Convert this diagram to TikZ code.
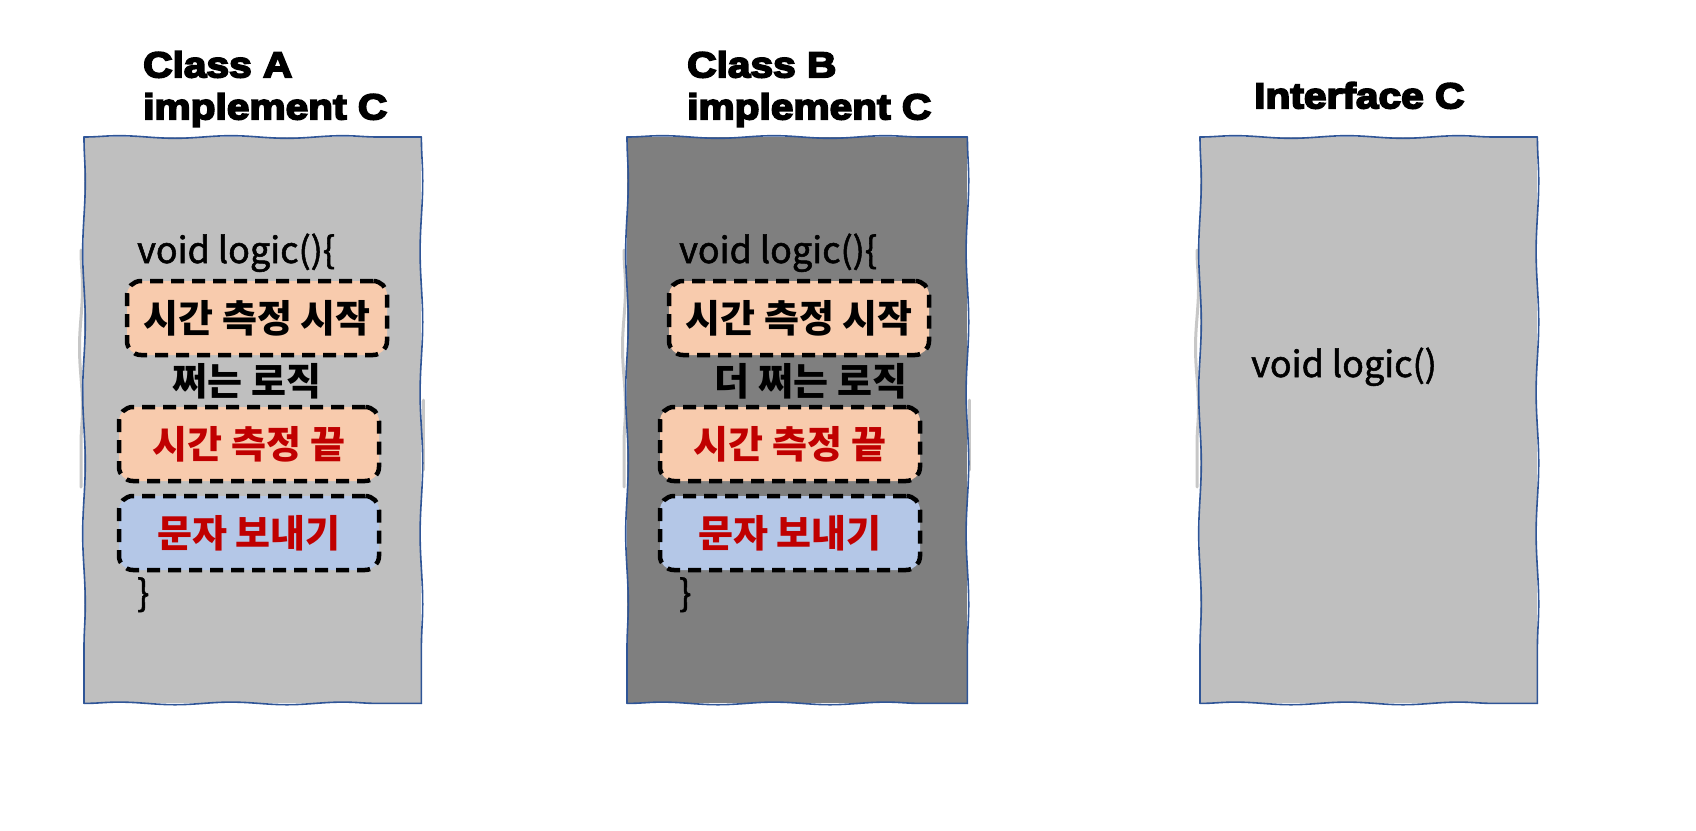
\documentclass[tikz,border=0pt]{standalone}
\usepackage{fontspec}
\setmainfont{Noto Sans CJK KR}
\newfontfamily\headfont{Liberation Sans Bold}[FakeBold=5, FakeStretch=1.13]
\newfontfamily\codefont{Noto Sans CJK KR}[FakeBold=1.5]
\usetikzlibrary{decorations.pathmorphing}
\definecolor{panelborder}{HTML}{2F5597}
\definecolor{lightpanel}{HTML}{BFBFBF}
\definecolor{darkpanel}{HTML}{7F7F7F}
\definecolor{peach}{HTML}{F8CBAD}
\definecolor{paleblue}{HTML}{B4C7E7}
\definecolor{darkred}{HTML}{C00000}
\tikzset{
  panel/.style={inner sep=0pt, anchor=north west, minimum height=566pt},
  hedge/.style={draw=panelborder, line width=1.6pt, line cap=round, decorate,
    decoration={snake, segment length=112pt, amplitude=1.3pt}},
  vedge/.style={draw=panelborder, line width=1.6pt, line cap=round, decorate,
    decoration={snake, segment length=141pt, amplitude=1.3pt}},
  shade/.style={draw=black!22, line width=3pt, line cap=round, decorate,
    decoration={snake, segment length=120pt, amplitude=1.5pt}},
  title/.style={font=\headfont\fontsize{36}{42}\selectfont, align=left, anchor=north west, inner sep=0pt},
  code/.style={font=\codefont\fontsize{36}{40}\selectfont, anchor=base west, inner sep=0pt},
  kor/.style={font=\bfseries\fontsize{38}{42}\selectfont, inner sep=0pt},
  stepbox/.style={draw=black, dash pattern=on 13pt off 8pt, line width=4.5pt, rounded corners=14pt,
    minimum width=260pt, minimum height=74pt, inner sep=0pt, font=\bfseries\fontsize{38}{42}\selectfont},
}
\begin{document}
\begin{tikzpicture}[x=1pt,y=-1pt]
\useasboundingbox (0,0) rectangle (1696,830);
% shadows
\draw[shade] (81,250) -- (81,487);
\draw[shade] (624,250) -- (624,487);
\draw[shade] (1197,250) -- (1197,487);
\draw[shade] (423,400) -- (423,470);
\draw[shade] (969,400) -- (969,470);
% panels
\node[panel, fill=lightpanel, minimum width=337pt] (pa) at (84,137) {};
\node[panel, fill=darkpanel, minimum width=340pt] (pb) at (627,137) {};
\node[panel, fill=lightpanel, minimum width=337pt] (pc) at (1200,137) {};
\foreach \p in {pa,pb,pc}{
  \draw[hedge] (\p.north west) -- (\p.north east);
  \draw[hedge] (\p.south west) -- (\p.south east);
  \draw[vedge] (\p.north west) -- (\p.south west);
  \draw[vedge] (\p.north east) -- (\p.south east);
}
% titles
\node[title] (ta) at (143,51) {Class A\\implement C};
\node[title] (tb) at (687,51) {Class B\\implement C};
\node[title] (tc) at (1254,82) {Interface C};
% panel A content
\node[code] (va) at (137,263) {void logic()\{};
\node[stepbox, fill=peach, text=black] (a1) at (257,318) {시간 측정 시작};
\node[kor] (la) at (247,381) {쩌는 로직};
\node[stepbox, fill=peach, text=darkred] (a2) at (249,444) {시간 측정 끝};
\node[stepbox, fill=paleblue, text=darkred] (a3) at (249,533) {문자 보내기};
\node[code] (ca) at (137,606) {\}};
% panel B content
\node[code] (vb) at (679,263) {void logic()\{};
\node[stepbox, fill=peach, text=black] (b1) at (799,318) {시간 측정 시작};
\node[kor] (lb) at (811,381) {더 쩌는 로직};
\node[stepbox, fill=peach, text=darkred] (b2) at (790,444) {시간 측정 끝};
\node[stepbox, fill=paleblue, text=darkred] (b3) at (790,533) {문자 보내기};
\node[code] (cb) at (679,606) {\}};
% panel C content
\node[code] (vc) at (1251,377) {void logic()};
\end{tikzpicture}
\end{document}
